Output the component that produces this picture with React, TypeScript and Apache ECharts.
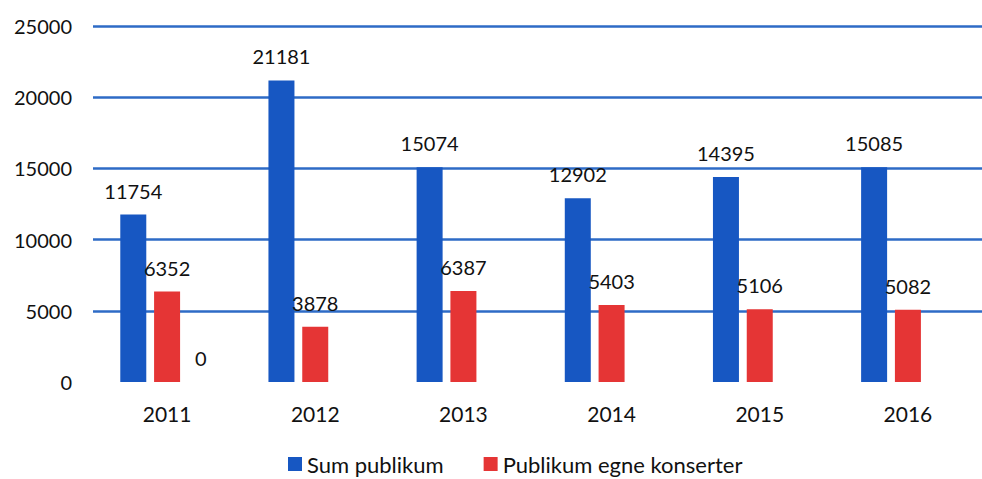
import React, { useEffect, useRef } from "react";
import * as echarts from "echarts";

const categories = ["2011", "2012", "2013", "2014", "2015", "2016"];
const sumPublikum = [11754, 21181, 15074, 12902, 14395, 15085];
const egneKonserter = [6352, 3878, 6387, 5403, 5106, 5082];
const thirdSeries: (number | string)[] = [0, "-", "-", "-", "-", "-"];
const yTicks = { min: 0, max: 25000, interval: 5000 };

const FONT = "Lato";

export default function App() {
  const ref = useRef<HTMLDivElement>(null);
  useEffect(() => {
    if (!ref.current) return;
    const chart = echarts.init(ref.current, undefined, { renderer: "svg" });
    const label = {
      show: true,
      position: "top" as const,
      distance: 14,
      color: "#111",
      fontFamily: FONT,
      fontSize: 20,
    };
    chart.setOption({
      animation: false,
      backgroundColor: "#fff",
      grid: { left: 93, width: 902, top: 26, bottom: 97 },
      legend: {
        data: ["Sum publikum", "Publikum egne konserter"],
        left: 283,
        top: 447,
        icon: "rect",
        itemWidth: 14,
        itemHeight: 14,
        itemGap: 40,
        textStyle: { color: "#111", fontFamily: FONT, fontSize: 22, lineHeight: 24 },
      },
      xAxis: {
        type: "category",
        data: categories,
        axisLine: { show: false },
        axisTick: { show: false },
        axisLabel: { color: "#111", fontFamily: FONT, fontSize: 21, margin: 21 },
      },
      yAxis: {
        type: "value",
        min: yTicks.min,
        max: yTicks.max,
        interval: yTicks.interval,
        axisLine: { show: false },
        axisTick: { show: false },
        axisLabel: {
          color: "#111",
          fontFamily: FONT,
          fontSize: 20,
          margin: 21,
          formatter: (v: number) => String(v),
        },
        splitLine: {
          show: true,
          showMinLine: false,
          lineStyle: { color: "#2E6BC6", width: 2.5 },
        },
      },
      series: [
        {
          name: "Sum publikum",
          type: "bar",
          data: sumPublikum,
          barWidth: 26,
          barGap: "30%",
          itemStyle: { color: "#1757C2" },
          label,
        },
        {
          name: "Publikum egne konserter",
          type: "bar",
          data: egneKonserter,
          barWidth: 26,
          barGap: "30%",
          itemStyle: { color: "#E53535" },
          label,
        },
        {
          name: "Serie 3",
          type: "bar",
          data: thirdSeries,
          barWidth: 26,
          barGap: "30%",
          itemStyle: { color: "#A5A5A5" },
          label,
        },
      ],
    });
    return () => chart.dispose();
  }, []);
  return (
    <div
      ref={ref}
      style={{ position: "fixed", left: 0, top: 0, width: 982, height: 479 }}
    />
  );
}
